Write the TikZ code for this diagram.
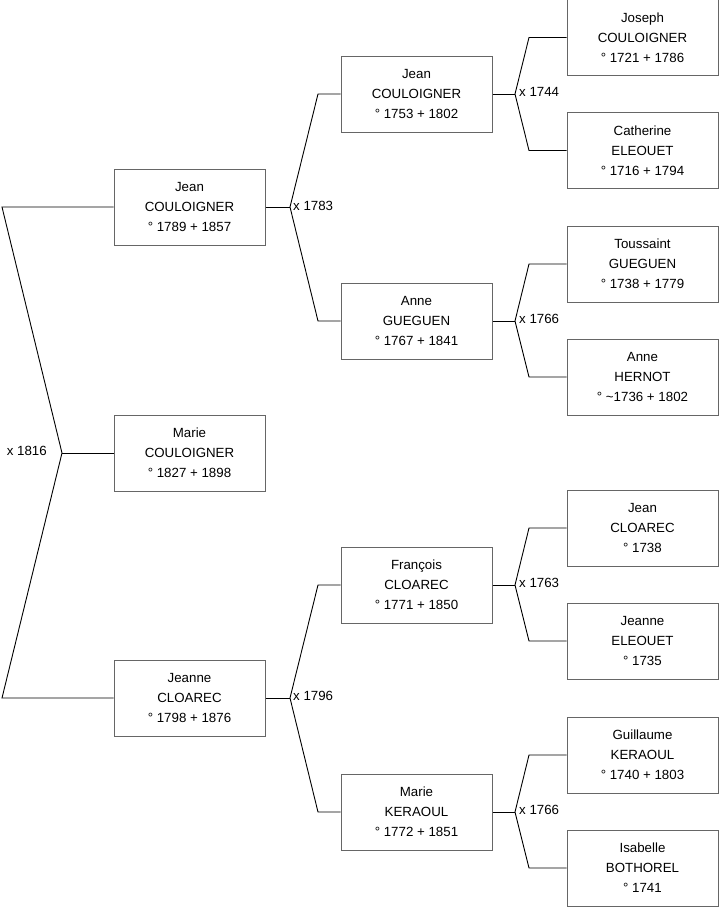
\documentclass[tikz,border=0pt]{standalone}
\usepackage{fontspec}
\setmainfont{Liberation Sans}
\begin{document}
\begin{tikzpicture}[x=1pt,y=-1pt,
  pbox/.style={draw=black!60, line width=1pt, fill=white, minimum width=151pt, minimum height=76pt,
    align=center, inner sep=0pt, font=\fontsize{13.3}{20}\selectfont},
  mlabel/.style={inner sep=0pt, font=\fontsize{13.3}{16}\selectfont},
  link/.style={draw=black, line width=0.9pt}]
\useasboundingbox (0,0) rectangle (719,908);
% generation 1
\node[pbox] (p1) at (189.5,207) {Jean\\COULOIGNER\\° 1789 + 1857};
\node[pbox] (p0) at (189.5,453) {Marie\\COULOIGNER\\° 1827 + 1898};
\node[pbox] (p2) at (189.5,698) {Jeanne\\CLOAREC\\° 1798 + 1876};
% generation 2
\node[pbox] (p11) at (416.5,94) {Jean\\COULOIGNER\\° 1753 + 1802};
\node[pbox] (p12) at (416.5,321) {Anne\\GUEGUEN\\° 1767 + 1841};
\node[pbox] (p21) at (416.5,585) {François\\CLOAREC\\° 1771 + 1850};
\node[pbox] (p22) at (416.5,812) {Marie\\KERAOUL\\° 1772 + 1851};
% generation 3
\node[pbox] (p111) at (642.5,37.5) {Joseph\\COULOIGNER\\° 1721 + 1786};
\node[pbox] (p112) at (642.5,150.5) {Catherine\\ELEOUET\\° 1716 + 1794};
\node[pbox] (p121) at (642.5,264) {Toussaint\\GUEGUEN\\° 1738 + 1779};
\node[pbox] (p122) at (642.5,377) {Anne\\HERNOT\\° \textasciitilde1736 + 1802};
\node[pbox] (p211) at (642.5,528) {Jean\\CLOAREC\\° 1738};
\node[pbox] (p212) at (642.5,641) {Jeanne\\ELEOUET\\° 1735};
\node[pbox] (p221) at (642.5,755) {Guillaume\\KERAOUL\\° 1740 + 1803};
\node[pbox] (p222) at (642.5,868) {Isabelle\\BOTHOREL\\° 1741};
% junction coordinates
\coordinate (j0) at (62,453);
\coordinate (j0a) at (2,207);
\coordinate (j0b) at (2,698);
\coordinate (j1) at (290,207);
\coordinate (j1a) at (318,94);
\coordinate (j1b) at (318,321);
\coordinate (j2) at (290,698);
\coordinate (j2a) at (318,585);
\coordinate (j2b) at (318,812);
\coordinate (j11) at (515,94);
\coordinate (j11a) at (529,37.5);
\coordinate (j11b) at (529,150.5);
\coordinate (j12) at (515,321);
\coordinate (j12a) at (529,264);
\coordinate (j12b) at (529,377);
\coordinate (j21) at (515,585);
\coordinate (j21a) at (529,528);
\coordinate (j21b) at (529,641);
\coordinate (j22) at (515,812);
\coordinate (j22a) at (529,755);
\coordinate (j22b) at (529,868);
% connectors
\draw[link] (p0.west) -- (j0);
\draw[link] (p1.west) -- (j0a) -- (j0) -- (j0b) -- (p2.west);
\draw[link] (p1.east) -- (j1);
\draw[link] (p11.west) -- (j1a) -- (j1) -- (j1b) -- (p12.west);
\draw[link] (p2.east) -- (j2);
\draw[link] (p21.west) -- (j2a) -- (j2) -- (j2b) -- (p22.west);
\draw[link] (p11.east) -- (j11);
\draw[link] (p111.west) -- (j11a) -- (j11) -- (j11b) -- (p112.west);
\draw[link] (p12.east) -- (j12);
\draw[link] (p121.west) -- (j12a) -- (j12) -- (j12b) -- (p122.west);
\draw[link] (p21.east) -- (j21);
\draw[link] (p211.west) -- (j21a) -- (j21) -- (j21b) -- (p212.west);
\draw[link] (p22.east) -- (j22);
\draw[link] (p221.west) -- (j22a) -- (j22) -- (j22b) -- (p222.west);
% marriage labels
\node[mlabel, anchor=east] (m0) at (47,451) {x 1816};
\node[mlabel, anchor=west] (m1) at (293,206) {x 1783};
\node[mlabel, anchor=west] (m2) at (293,696) {x 1796};
\node[mlabel, anchor=west] (m11) at (519,92) {x 1744};
\node[mlabel, anchor=west] (m12) at (519,319) {x 1766};
\node[mlabel, anchor=west] (m21) at (519,583) {x 1763};
\node[mlabel, anchor=west] (m22) at (519,810) {x 1766};
\end{tikzpicture}
\end{document}
